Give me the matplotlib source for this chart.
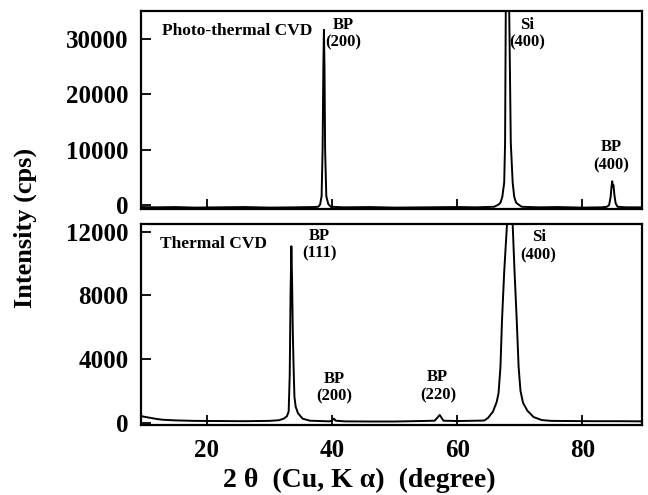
import matplotlib
matplotlib.use('Agg')
import matplotlib.pyplot as plt

# 光热CVD 谱线 (读图取点)
top_x = [9.5, 12, 15, 18, 22, 26, 30, 34, 37.0, 37.8, 38.1, 38.34, 38.5, 38.62, 38.71, 38.8, 38.9, 39.09,
         39.4, 39.8, 42, 46, 50, 55, 60, 63, 65.9, 66.6, 66.9, 67.2, 67.5, 67.64, 67.75, 67.9, 68.1, 68.3,
         68.55, 68.85, 69.1, 69.4, 69.9, 70.3, 73, 76, 80, 83.0, 83.9, 84.25, 84.5, 84.65, 84.75, 84.85,
         84.95, 85.1, 85.3, 85.6, 87, 89.5]
top_y = [-350, -400, -350, -450, -400, -350, -450, -400, -350, -300, 100, 1620, 10000, 25000, 31600, 25000,
         10000, 1620, 200, -300, -400, -350, -450, -400, -350, -400, -300, 100, 430, 1500, 4080, 11280, 35000,
         45000, 45000, 35000, 11280, 4080, 1500, 430, 0, -300, -400, -350, -450, -400, -300, 0, 1500, 3500,
         4300, 3300, 3600, 1800, 300, -300, -400, -400]

# 热CVD 谱线
bot_x = [9.5, 10, 11, 12, 13, 15, 18, 22, 26, 30, 31.5, 32.3, 32.8, 33.08, 33.25, 33.38, 33.51, 33.62,
         33.75, 33.9, 34.0, 34.2, 34.56, 35.3, 36.5, 39.6, 40.0, 40.3, 40.6, 42, 46, 50, 54, 56.4, 56.8,
         57.2, 57.5, 57.8, 60, 63, 64.3, 64.9, 65.7, 66.3, 66.6, 66.9, 67.15, 67.5, 67.95, 68.15, 68.45,
         68.85, 69.15, 69.5, 69.8, 70.1, 70.5, 71.2, 72.2, 73.5, 75, 78, 82, 86, 89.5]
bot_y = [420, 370, 300, 230, 180, 140, 110, 100, 90, 110, 150, 250, 400, 700, 3000, 8000, 11100, 9000,
         5500, 3000, 1630, 1000, 600, 250, 120, 80, 130, 250, 120, 80, 70, 70, 100, 120, 300,
         480, 300, 120, 100, 120, 130, 290, 690, 1300, 1870, 3500, 6450, 9500, 12500, 15000, 15000,
         12500, 9500, 6450, 3500, 2000, 1250, 750, 350, 160, 110, 100, 90, 90, 80]

top_labels = [('BP\n(200)', 41.8, 30900), ('Si\n(400)', 71.2, 30900), ('BP\n(400)', 84.6, 8800)]
bot_labels = [('BP\n(111)', 38.0, 11200), ('BP\n(200)', 40.3, 2200), ('BP\n(220)', 56.9, 2300),
              ('Si\n(400)', 73.0, 11100)]

SERIF = ['Liberation Serif', 'DejaVu Serif']
plt.rcParams['font.family'] = SERIF
plt.rcParams['font.weight'] = 'bold'

fig = plt.figure(figsize=(6.48, 4.95), dpi=100)
ax1 = fig.add_axes([0.2176, 0.5778, 0.7731, 0.4])
ax2 = fig.add_axes([0.2176, 0.1414, 0.7731, 0.4061])

for ax in (ax1, ax2):
    ax.set_xlim(9.5, 89.5)
    ax.set_xticks([20, 40, 60, 80])
    ax.tick_params(direction='in', length=7, width=1.3, labelsize=18, pad=9)
    ax.tick_params(axis='x', pad=10)
    for sp in ax.spines.values():
        sp.set_linewidth(1.6)

ax1.plot(top_x, top_y, color='black', lw=1.4)
ax1.set_ylim(-700, 35000)
ax1.set_yticks([0, 10000, 20000, 30000])
ax1.tick_params(axis='x', labelbottom=False)
ax1.text(0.042, 0.90, 'Photo-thermal CVD', transform=ax1.transAxes, fontsize=12.5,
         fontweight='bold', va='center', ha='left')
for t, x, y in top_labels:
    ax1.text(x, y, t, fontsize=12, fontweight='bold', ha='center', va='center',
             multialignment='center', linespacing=1.15)

ax2.plot(bot_x, bot_y, color='black', lw=1.4)
ax2.set_ylim(-150, 12500)
ax2.set_yticks([0, 4000, 8000, 12000])
ax2.text(0.038, 0.90, 'Thermal CVD', transform=ax2.transAxes, fontsize=12.5,
         fontweight='bold', va='center', ha='left')
for t, x, y in bot_labels:
    ax2.text(x, y, t, fontsize=12, fontweight='bold', ha='center', va='center',
             multialignment='center', linespacing=1.15)

for lab in ax1.get_yticklabels() + ax2.get_yticklabels() + ax2.get_xticklabels():
    lab.set_fontweight('bold')

fig.text(0.039, 0.54, 'Intensity (cps)', rotation=90, fontsize=19, fontweight='bold',
         ha='center', va='center')
fig.text(0.555, 0.03, '2 θ  (Cu, K α)  (degree)', fontsize=20, fontweight='bold',
         ha='center', va='center')

fig.savefig('out.png', dpi=100)
